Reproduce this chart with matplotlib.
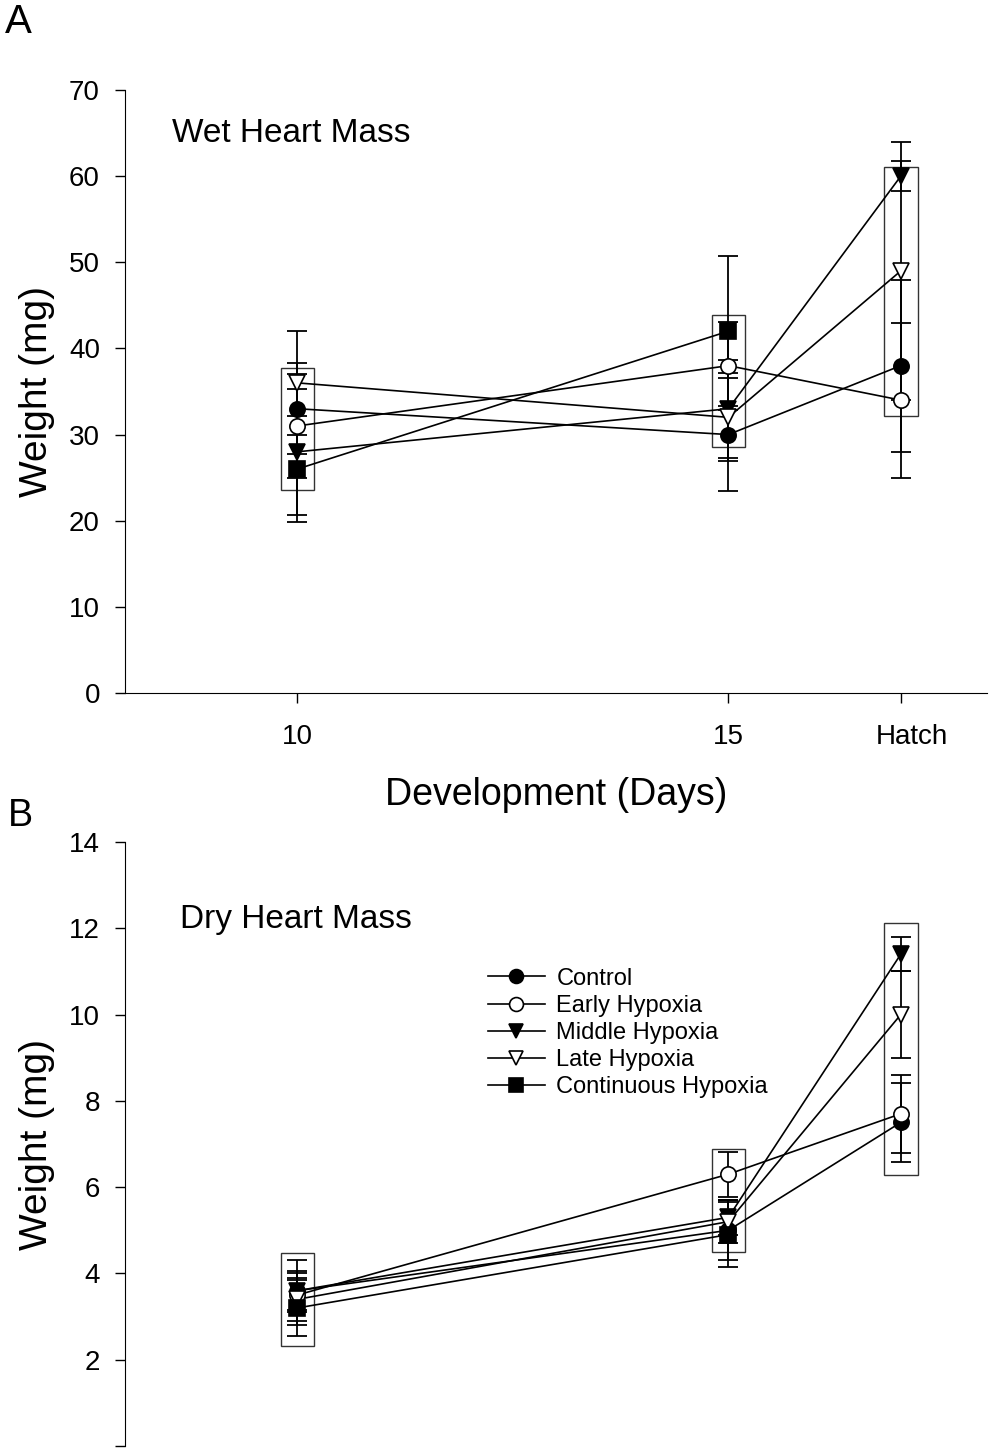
import numpy as np
import matplotlib
matplotlib.use('Agg')
import matplotlib.pyplot as plt
import matplotlib.transforms as mtransforms
from matplotlib.patches import Rectangle
from matplotlib.lines import Line2D

plt.rcParams['font.family'] = ['Liberation Sans', 'DejaVu Sans']

days = [10, 15, 17]
day_labels = ['10', '15', 'Hatch']
groups = ['Control', 'Early Hypoxia', 'Middle Hypoxia', 'Late Hypoxia', 'Continuous Hypoxia']
markers = ['o', 'o', 'v', 'v', 's']
fills = ['black', 'white', 'black', 'white', 'black']

# wet heart mass (mg)
wet_control = [33, 30, 38]
wet_early = [31, 38, 34]
wet_middle = [28, 33, 60]
wet_late = [36, 32, 49]
wet_cont = [26, 42, np.nan]
wet_control_err = [5.3, 6.6, 10.0]
wet_early_err = [6.0, 5.1, 9.0]
wet_middle_err = [7.3, 5.7, 1.7]
wet_late_err = [6.0, 5.1, 15.0]
wet_cont_err = [6.2, 8.7, np.nan]
wet_box_low = [23.6, 28.5, 32.2]
wet_box_high = [37.7, 43.9, 61.1]

# dry heart mass (mg)
dry_control = [3.6, 5.0, 7.5]
dry_early = [3.5, 6.3, 7.7]
dry_middle = [3.6, 5.3, 11.4]
dry_late = [3.4, 5.2, 10.0]
dry_cont = [3.2, 4.9, np.nan]
dry_control_err = [0.7, 0.7, 0.92]
dry_early_err = [0.4, 0.52, 0.9]
dry_middle_err = [0.45, 0.4, 0.4]
dry_late_err = [0.6, 0.5, 1.0]
dry_cont_err = [0.65, 0.76, np.nan]
dry_box_low = [2.32, 4.49, 6.29]
dry_box_high = [4.47, 6.89, 12.13]

W, H = 989, 1448
fig = plt.figure(figsize=(W / 100, H / 100), dpi=100)

def frac(x0, y0, x1, y1):
    return [x0 / W, 1 - y1 / H, (x1 - x0) / W, (y1 - y0) / H]

def draw_panel(ax, means, errs, box_low, box_high):
    x = np.array(days, dtype=float)
    for lo, hi, d in zip(box_low, box_high, days):
        ax.add_patch(Rectangle((d - 0.195, lo), 0.39, hi - lo, fill=False,
                               edgecolor='#333333', lw=1.0, zorder=1))
    for i, (m, e) in enumerate(zip(means, errs)):
        m = np.array(m, dtype=float)
        e = np.array(e, dtype=float)
        ok = ~np.isnan(m)
        ax.plot(x[ok], m[ok], color='black', lw=1.2, zorder=2)
        ax.errorbar(x[ok], m[ok], yerr=e[ok], fmt='none', ecolor='black',
                    elinewidth=1.3, capsize=7, capthick=1.3, zorder=3)
        ax.plot(x[ok], m[ok], linestyle='none', marker=markers[i], ms=11,
                mfc=fills[i], mec='black', mew=1.2, zorder=4 + i)
    ax.set_xlim(8, 18)
    ax.spines['top'].set_visible(False)
    ax.spines['right'].set_visible(False)
    ax.tick_params(axis='y', direction='out', length=7, width=1, pad=11, labelsize=20)
    ax.tick_params(axis='x', direction='out', length=7, width=1, pad=15, labelsize=20)

# panel A
axA = fig.add_axes(frac(125, 90, 987, 693))
draw_panel(axA,
           [wet_control, wet_early, wet_middle, wet_late, wet_cont],
           [wet_control_err, wet_early_err, wet_middle_err, wet_late_err, wet_cont_err],
           wet_box_low, wet_box_high)
axA.set_ylim(0, 70)
axA.set_yticks(range(0, 71, 10))
axA.set_xticks(days)
axA.set_xticklabels(day_labels)
# the Hatch label sits a little right of its tick in the original
hatch_lbl = axA.get_xticklabels()[-1]
hatch_lbl.set_transform(hatch_lbl.get_transform() +
                        mtransforms.ScaledTranslation(11 / 100, 0, fig.dpi_scale_trans))
axA.set_ylabel('Weight (mg)', fontsize=28, labelpad=10)
axA.set_xlabel('Development (Days)', fontsize=27, labelpad=20)
axA.text(8.55, 65, 'Wet Heart Mass', fontsize=24, va='center', ha='left')

# panel B
axB = fig.add_axes(frac(125, 842, 987, 1446))
draw_panel(axB,
           [dry_control, dry_early, dry_middle, dry_late, dry_cont],
           [dry_control_err, dry_early_err, dry_middle_err, dry_late_err, dry_cont_err],
           dry_box_low, dry_box_high)
axB.set_ylim(0, 14)
axB.set_yticks(range(0, 15, 2))
axB.set_yticklabels([''] + [str(v) for v in range(2, 15, 2)])
axB.spines['bottom'].set_visible(False)
axB.set_xticks([])
axB.set_ylabel('Weight (mg)', fontsize=28, labelpad=10)
axB.text(8.64, 12.2, 'Dry Heart Mass', fontsize=24, va='center', ha='left')

handles = [Line2D([], [], color='black', lw=1.2, marker=markers[i], ms=10,
                  mfc=fills[i], mec='black', mew=1.2) for i in range(len(groups))]
axB.legend(handles, groups, loc='upper left', bbox_to_anchor=(0.421, 0.792), frameon=False,
           fontsize=17, handlelength=2.4, handletextpad=0.5, labelspacing=0.22,
           borderpad=0, borderaxespad=0)

fig.text(5 / W, 1 - 22 / H, 'A', fontsize=29, va='center', ha='left')
fig.text(8 / W, 1 - 816 / H, 'B', fontsize=27, va='center', ha='left')

fig.savefig('out.png', dpi=100)
